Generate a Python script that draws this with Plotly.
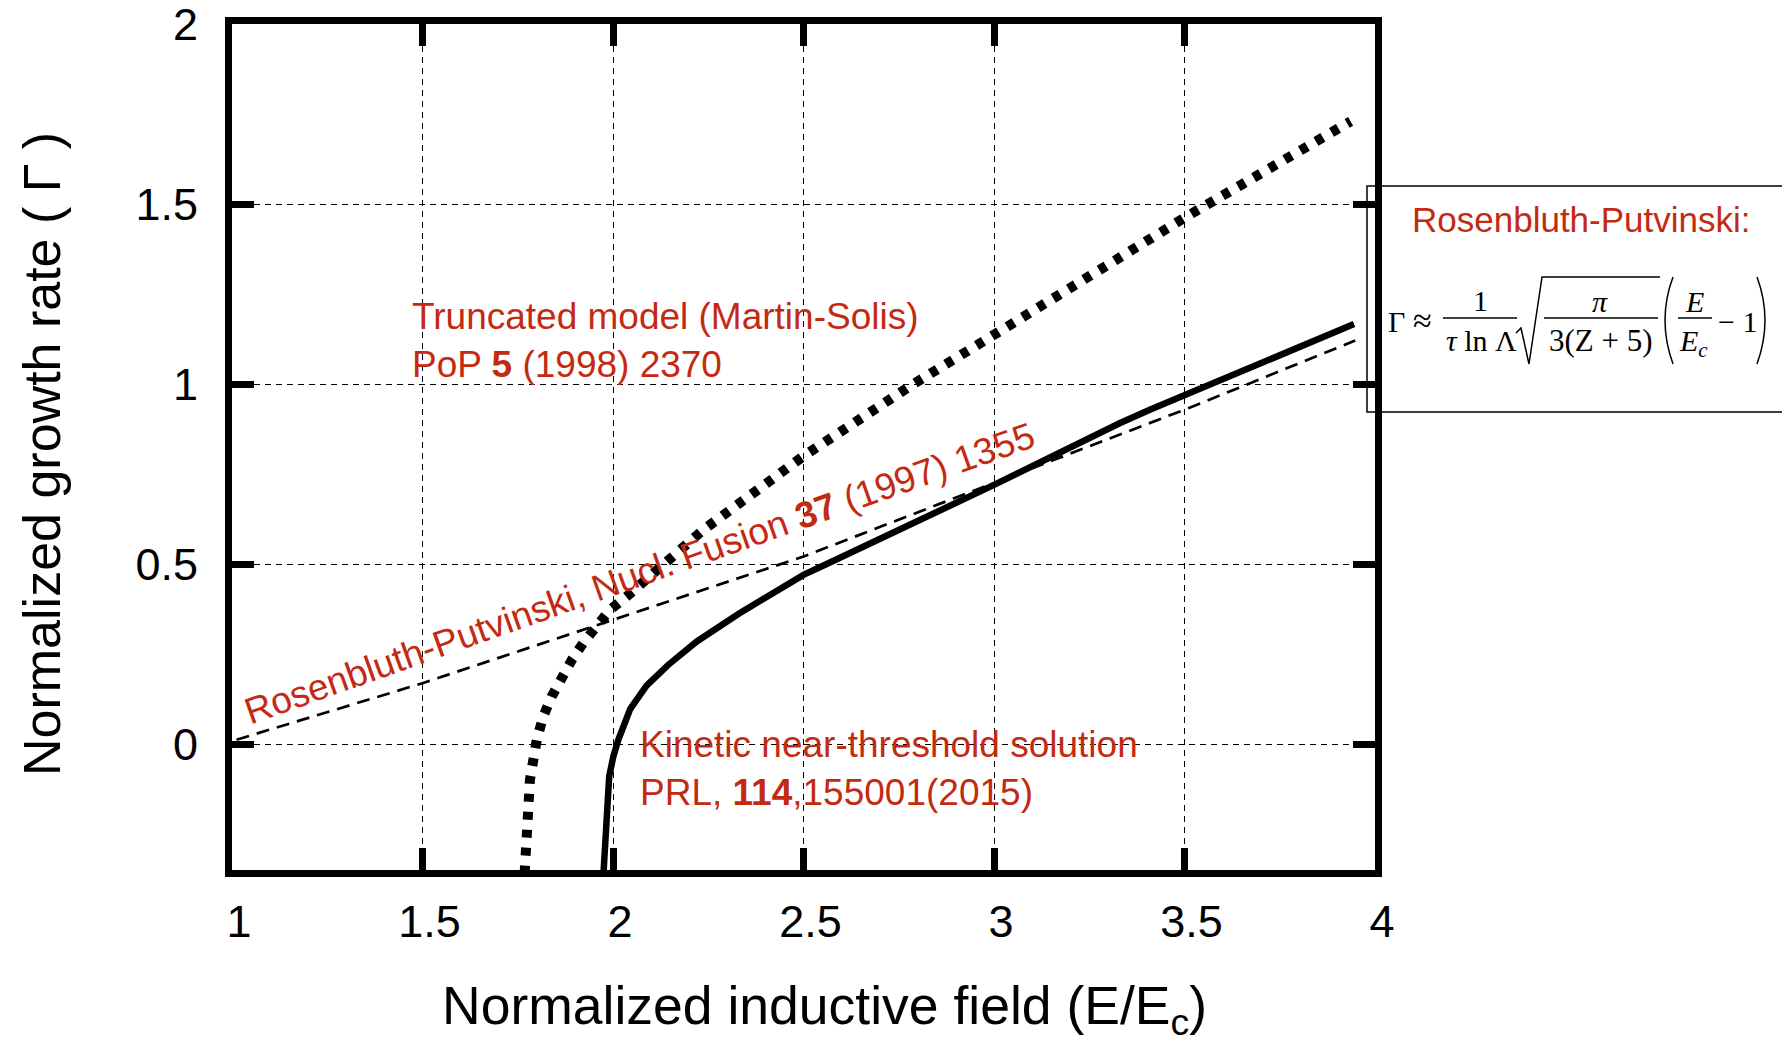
import plotly.graph_objects as go

# ---------------- data ----------------
x_ticks = [1, 1.5, 2, 2.5, 3, 3.5, 4]
x_tick_labels = ["1", "1.5", "2", "2.5", "3", "3.5", "4"]
y_ticks = [0, 0.5, 1, 1.5, 2]
y_tick_labels = ["0", "0.5", "1", "1.5", "2"]

# Rosenbluth-Putvinski (thin dashed)
rp_x = [1.012, 1.5, 2.0, 2.5, 2.93, 3.51, 3.948]
rp_y = [0.012, 0.169, 0.345, 0.521, 0.697, 0.933, 1.121]

# Truncated model, Martin-Solis (thick dotted)
tm_x = [1.768, 1.773, 1.782, 1.800, 1.817, 1.839, 1.865, 1.892, 1.922, 1.953,
        1.992, 2.036, 2.237, 2.5, 2.788, 3.0, 3.234, 3.506, 3.936]
tm_y = [-0.36, -0.238, -0.099, 0.012, 0.077, 0.132, 0.188, 0.234, 0.281, 0.327,
        0.373, 0.41, 0.595, 0.8, 1.0, 1.137, 1.29, 1.466, 1.73]

# Kinetic near-threshold solution (thick solid)
kin_x = [1.975, 1.976, 1.979, 1.983, 1.990, 2.001, 2.014, 2.045, 2.088, 2.145,
         2.22, 2.33, 2.438, 2.5, 2.561, 3.0, 3.331, 3.409, 3.57, 3.707, 3.945]
kin_y = [-0.36, -0.34, -0.247, -0.155, -0.09, -0.034, 0.012, 0.097, 0.162, 0.22,
         0.285, 0.362, 0.433, 0.470, 0.5, 0.720, 0.892, 0.929, 1.0, 1.06, 1.167]

# ---------------- figure geometry ----------------
OFF = 8                       # page body margin
W, H = 1790 - OFF, 1041 - OFF
L, R, T, B = 224, 415, 16, 171
PW, PH = W - L - R, H - T - B
RED = "#C42A12"
SANS = "Arial, Liberation Sans, sans-serif"
SERIF = "Times New Roman, Liberation Serif, serif"


def px(xp):
    return (xp - OFF - L) / PW


def py(yp):
    return 1 - (yp - OFF - T) / PH


fig = go.Figure()
fig.add_trace(go.Scatter(x=rp_x, y=rp_y, mode="lines",
                         line=dict(color="black", width=2.7, dash="13px,8px")))
fig.add_trace(go.Scatter(x=tm_x, y=tm_y, mode="lines",
                         line=dict(color="black", width=10, dash="8px,10px")))
fig.add_trace(go.Scatter(x=kin_x, y=kin_y, mode="lines",
                         line=dict(color="black", width=6.5)))

axis_common = dict(
    showgrid=True, gridcolor="black", gridwidth=1.2, griddash="6px,5px",
    showline=True, linewidth=7, linecolor="black", mirror="allticks",
    ticks="inside", ticklen=22, tickwidth=7, tickcolor="black",
    tickfont=dict(family=SANS, size=45, color="black"),
    ticklabeloverflow="allow",
    zeroline=False, automargin=False,
)

fig.update_layout(
    width=W, height=H, autosize=False,
    margin=dict(l=L, r=R, t=T, b=B, pad=0),
    paper_bgcolor="white", plot_bgcolor="white",
    showlegend=False,
    xaxis=dict(range=[1, 4], tickvals=x_ticks, ticktext=x_tick_labels,
               ticklabelshift=7, ticklabelstandoff=6, **axis_common),
    yaxis=dict(range=[-0.35, 2.0005], tickvals=y_ticks, ticktext=y_tick_labels,
               ticklabelstandoff=18, **axis_common),
)

ann = []
# axis titles
ann.append(dict(x=px(824), y=py(1009), xref="paper", yref="paper", showarrow=False,
                xanchor="center", yanchor="middle",
                text="Normalized inductive field (E/E<sub>c</sub>)",
                font=dict(family=SANS, size=53.5, color="black")))
ann.append(dict(x=px(42), y=py(454), xref="paper", yref="paper", showarrow=False,
                xanchor="center", yanchor="middle", textangle=-90,
                text="Normalized growth rate ( Γ )",
                font=dict(family=SANS, size=52, color="black")))

# rotated RP label
ann.append(dict(x=2.07, y=0.474, xref="x", yref="y", showarrow=False,
                text="Rosenbluth-Putvinski, Nucl. Fusion <b>37</b> (1997) 1355",
                textangle=-19.5, font=dict(family=SANS, size=37, color=RED)))
ann.append(dict(x=1.467, y=1.122, xref="x", yref="y", showarrow=False,
                xanchor="left", yanchor="middle", align="left",
                text="Truncated model (Martin-Solis)<br>PoP <b>5</b> (1998) 2370",
                font=dict(family=SANS, size=37, color=RED)))
ann.append(dict(x=2.066, y=-0.069, xref="x", yref="y", showarrow=False,
                xanchor="left", yanchor="middle", align="left",
                text="Kinetic near-threshold solution<br>PRL, <b>114</b>,155001(2015)",
                font=dict(family=SANS, size=37, color=RED)))

# formula box
ann.append(dict(x=px(1582), y=py(219), xref="paper", yref="paper", showarrow=False,
                xanchor="center", yanchor="middle",
                text="Rosenbluth-Putvinski:", font=dict(family=SANS, size=35, color=RED)))


def fa(xp, yp, text, size=30):
    ann.append(dict(x=px(xp), y=py(yp), xref="paper", yref="paper", showarrow=False,
                    xanchor="center", yanchor="middle", text=text,
                    font=dict(family=SERIF, size=size, color="black")))


fa(1396, 321, "Γ")
fa(1422, 320, "≈", 34)
fa(1480, 300, "1")
fa(1481, 341, "<i>τ</i> ln Λ")
fa(1600, 302, "<i>π</i>")
fa(1601, 341, "3(Z + 5)", 31)
fa(1694, 302, "<i>E</i>")
fa(1693, 343, "<i>E</i><sub><i>c</i></sub>")
fa(1737, 321, "− 1")

fig.update_layout(annotations=ann)

shapes = []
shapes.append(dict(type="rect", xref="paper", yref="paper",
                   x0=px(1367), x1=px(1800), y0=py(186), y1=py(412),
                   line=dict(color="black", width=1.5), fillcolor="white", layer="below"))
for x0, x1 in [(1443, 1517), (1544, 1658), (1678, 1712)]:
    shapes.append(dict(type="line", xref="paper", yref="paper",
                       x0=px(x0), x1=px(x1), y0=py(318), y1=py(318),
                       line=dict(color="black", width=1.3)))


def path(pts, cmds):
    s = ""
    for c, (a, b) in zip(cmds, pts):
        s += f"{c} {px(a):.5f},{py(b):.5f} "
    return s.strip()


rad = path([(1516, 333), (1521, 328), (1529, 364), (1542, 277), (1660, 277)],
           ["M", "L", "L", "L", "L"])
shapes.append(dict(type="path", xref="paper", yref="paper", path=rad,
                   line=dict(color="black", width=1.5)))
lp = f"M {px(1673):.5f},{py(277):.5f} Q {px(1657):.5f},{py(320):.5f} {px(1673):.5f},{py(364):.5f}"
rp = f"M {px(1757):.5f},{py(277):.5f} Q {px(1773):.5f},{py(320):.5f} {px(1757):.5f},{py(364):.5f}"
for p in (lp, rp):
    shapes.append(dict(type="path", xref="paper", yref="paper", path=p,
                       line=dict(color="black", width=1.5)))

fig.update_layout(shapes=shapes)
fig.write_html("out.html")
